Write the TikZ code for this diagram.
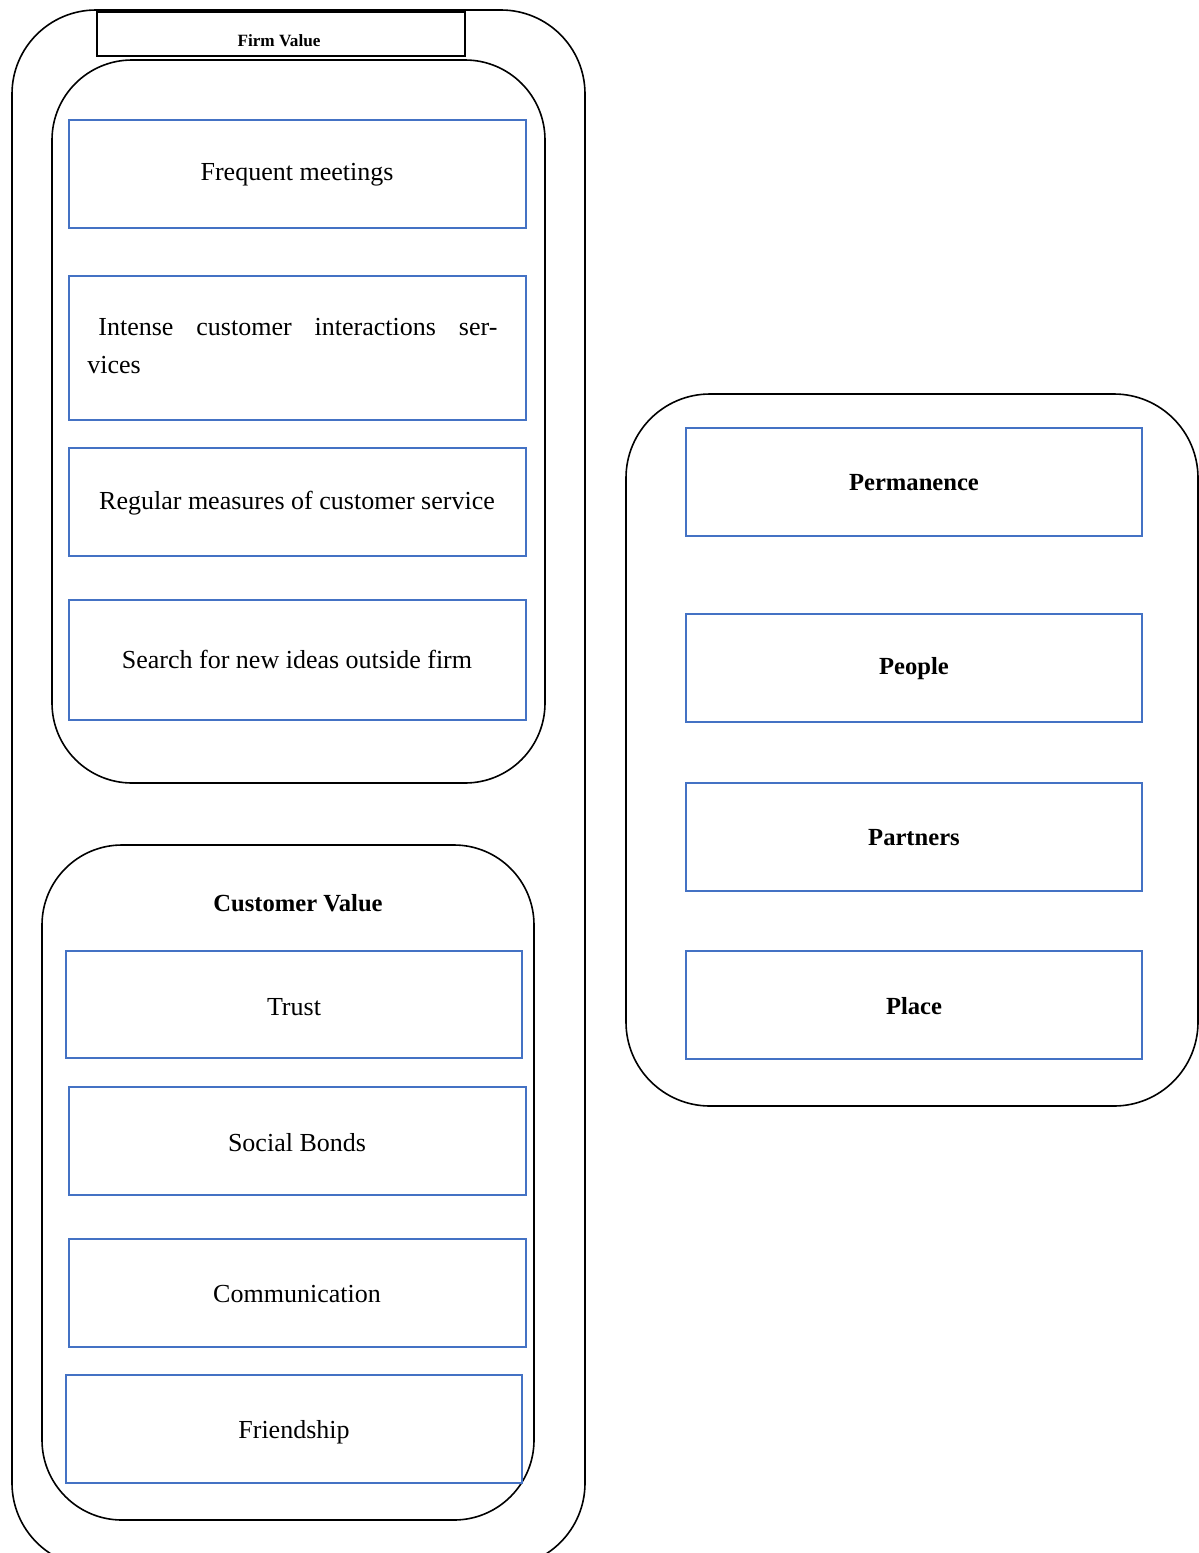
\documentclass[tikz,border=0pt]{standalone}
\usepackage{fontspec}
\setmainfont{Liberation Serif}
\usepackage{tikz}

\definecolor{boxblue}{RGB}{68,114,196}

\tikzset{
	groupbox/.style={draw=black, line width=0.8pt, rounded corners=42pt},
	itembox/.style={draw=boxblue, line width=0.75pt},
	itemtext/.style={font=\fontsize{13}{15}\selectfont, inner sep=0pt},
	headtext/.style={font=\fontsize{12.3}{14}\selectfont\bfseries, inner sep=0pt}
}

\begin{document}
\begin{tikzpicture}[x=0.5pt, y=-0.5pt]
\useasboundingbox (0,0) rectangle (1199,1553);

% outer frame and the three groups
\draw[groupbox] (12,10) rectangle (585,1567);
\draw[groupbox, rounded corners=40pt] (52,60) rectangle (545,783);
\draw[groupbox, rounded corners=40pt] (42,845) rectangle (534,1520);
\draw[groupbox] (626,394) rectangle (1198,1106);

\filldraw[white, draw=black, line width=1.2pt] (97,12) rectangle (465,56);
\node[font=\fontsize{8.6}{10}\selectfont\bfseries, inner sep=0pt] (firm) at (279,41) {Firm Value};

% firm value items
\draw[itembox] (69,120) rectangle (526,228);
\draw[itembox] (69,276) rectangle (526,420);
\draw[itembox] (69,448) rectangle (526,556);
\draw[itembox] (69,600) rectangle (526,720);
\node[itemtext] (meet) at (297,175) {Frequent meetings};
\node[itemtext, anchor=west, align=left, font=\fontsize{13}{19}\selectfont] (interact) at (87,346)
	{\hspace*{5.5pt}\makebox[199.5pt][s]{Intense customer interactions ser-}\\vices};
\node[itemtext] (measure) at (297,503) {Regular measures of customer service};
\node[itemtext] (ideas) at (297,659) {Search for new ideas outside firm};

% customer value items
\node[headtext] (cust) at (298,903) {Customer Value};
\draw[itembox] (66,951) rectangle (522,1058);
\draw[itembox] (69,1087) rectangle (526,1195);
\draw[itembox] (69,1239) rectangle (526,1347);
\draw[itembox] (66,1375) rectangle (522,1483);
\node[itemtext] (trust) at (294,1007) {Trust};
\node[itemtext] (bonds) at (297,1143) {Social Bonds};
\node[itemtext] (comm) at (297,1294) {Communication};
\node[itemtext] (friend) at (294,1432) {Friendship};

% right column
\foreach \ya/\name/\txt in {428/perm/Permanence, 614/people/People, 783/partners/Partners, 951/place/Place} {
	\draw[itembox] (686,\ya) rectangle (1142,\ya+108);
	\node[headtext] (\name) at (914,\ya+55) {\txt};
}
\end{tikzpicture}
\end{document}
